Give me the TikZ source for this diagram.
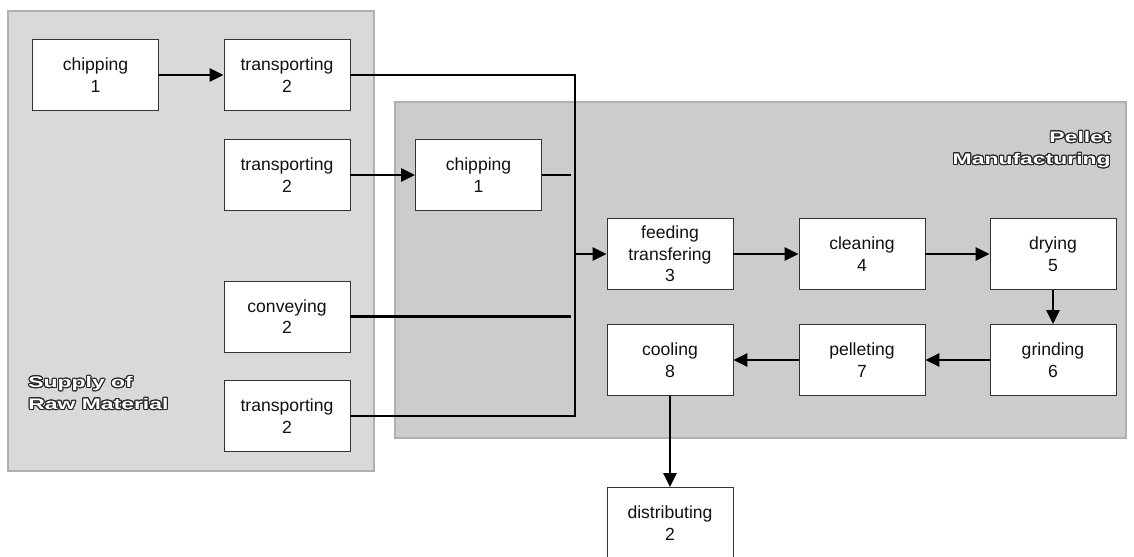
\documentclass[tikz,border=0pt]{standalone}
\usepackage{fontspec}
\setmainfont{Liberation Sans}
\newfontfamily\titlefont[FakeStretch=1.5]{Liberation Sans}
\usepackage{contour}
\contourlength{0.6pt}
\usetikzlibrary{arrows.meta, calc}
\definecolor{pa}{HTML}{d9d9d9}
\definecolor{pb}{HTML}{cccccc}
\definecolor{pe}{HTML}{b0b0b0}
\definecolor{bd}{HTML}{333333}
\definecolor{tx}{HTML}{111111}
\tikzset{
    stage/.style={draw=bd, line width=0.5pt, fill=white, minimum width=2.52cm,
        minimum height=1.42cm, align=center, inner sep=1pt, text=tx,
        font=\fontsize{10}{12.3}\selectfont},
    flow/.style={line width=1.6pt, -{Triangle[length=0.28cm,width=0.26cm]}},
    wire/.style={line width=1.6pt},
    ptitle/.style={font=\titlefont\bfseries\fontsize{8.7}{12.5}\selectfont,
        text=white, inner sep=0pt}
}

\begin{document}
\begin{tikzpicture}[x=0.02cm, y=-0.02cm]
    \useasboundingbox (0,0) rectangle (1134,556);

    % Panels
    \draw[pe, fill=pa, line width=0.6pt] (8,11) rectangle (374,471);
    \draw[pe, fill=pb, line width=0.8pt] (395,102) rectangle (1126,438);
    \node[ptitle, anchor=north west, align=left] (supply) at (28,376)
        {\contour{black!85}{Supply of}\\\contour{black!85}{Raw Material}};
    \node[ptitle, anchor=north east, align=right] (pellman) at (1111,131)
        {\contour{black!85}{Pellet}\\\contour{black!85}{Manufacturing}};

    % Raw material supply
    \node[stage] (chipA) at (95.5,75) {chipping\\1};
    \node[stage] (transA) at (287,75) {transporting\\2};
    \node[stage] (transB) at (287,175) {transporting\\2};
    \node[stage] (conv) at (287,316.5) {conveying\\2};
    \node[stage] (transC) at (287,416) {transporting\\2};

    % Manufacturing
    \node[stage] (chipB) at (478.5,175) {chipping\\1};
    \node[stage] (feed) at (670,254) {feeding\\transfering\\3};
    \node[stage] (clean) at (862,254) {cleaning\\4};
    \node[stage] (dry) at (1053,254) {drying\\5};
    \node[stage] (grind) at (1053,360) {grinding\\6};
    \node[stage] (pellet) at (862,360) {pelleting\\7};
    \node[stage] (cool) at (670,360) {cooling\\8};
    \node[stage] (distr) at (670,523) {distributing\\2};

    % Collecting line
    \coordinate (bustop) at (575,75);
    \coordinate (busbot) at (575,416);
    \coordinate (chipBend) at (571,175);
    \coordinate (convend) at (571,316.5);
    \draw[wire] (transA.east) -| (busbot) -- (transC.east);
    \draw[wire] (chipB.east) -- (chipBend);
    \draw[wire] (conv.east) -- (convend);

    % Flow
    \draw[flow] (chipA) -- (transA);
    \draw[flow] (transB) -- (chipB);
    \draw[flow] (feed.west -| bustop) -- (feed.west);
    \draw[flow] (feed) -- (clean);
    \draw[flow] (clean) -- (dry);
    \draw[flow] (dry) -- (grind);
    \draw[flow] (grind) -- (pellet);
    \draw[flow] (pellet) -- (cool);
    \draw[flow] (cool) -- (distr);
\end{tikzpicture}
\end{document}
